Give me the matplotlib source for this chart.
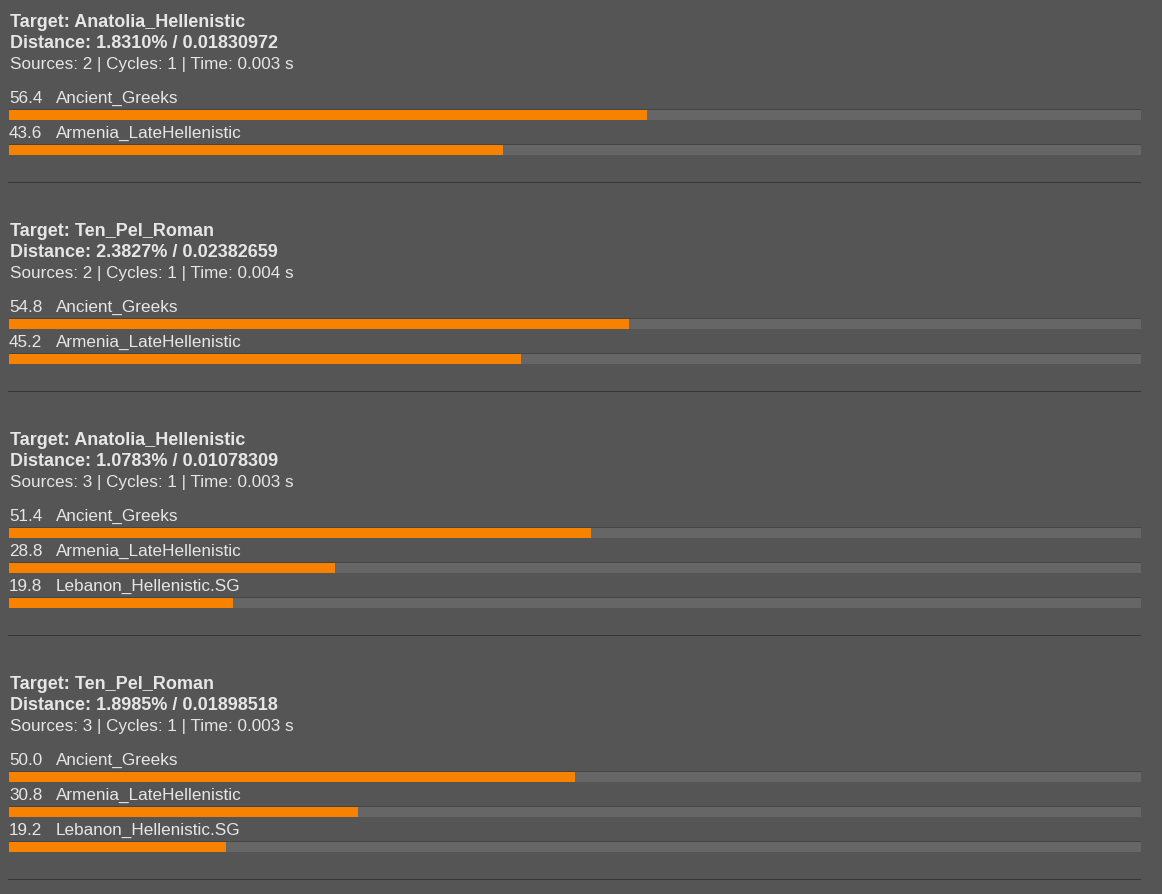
import matplotlib.pyplot as plt
from matplotlib.patches import Rectangle

plt.rcParams['font.family'] = ['Liberation Sans', 'DejaVu Sans']

targets = ['Anatolia_Hellenistic', 'Ten_Pel_Roman', 'Anatolia_Hellenistic', 'Ten_Pel_Roman']
distances = ['1.8310% / 0.01830972', '2.3827% / 0.02382659',
             '1.0783% / 0.01078309', '1.8985% / 0.01898518']
sources = [2, 2, 3, 3]
times = ['0.003', '0.004', '0.003', '0.003']
names = [
    ['Ancient_Greeks', 'Armenia_LateHellenistic'],
    ['Ancient_Greeks', 'Armenia_LateHellenistic'],
    ['Ancient_Greeks', 'Armenia_LateHellenistic', 'Lebanon_Hellenistic.SG'],
    ['Ancient_Greeks', 'Armenia_LateHellenistic', 'Lebanon_Hellenistic.SG'],
]
values = [
    [56.4, 43.6],
    [54.8, 45.2],
    [51.4, 28.8, 19.8],
    [50.0, 30.8, 19.2],
]

BG = '#555555'
TXT = '#e6e6e6'
ORANGE = '#f78200'
TRACK = '#666666'

W, H = 1162, 894
fig = plt.figure(figsize=(W / 100, H / 100), dpi=100, facecolor=BG)
ax = fig.add_axes([0, 0, 1, 1])
ax.set_xlim(0, W)
ax.set_ylim(H, 0)
ax.axis('off')

x0, track_w = 9, 1132
fs_b, fs = 13.0, 12.3
t = 0
for k in range(len(targets)):
    ax.text(10, t + 27, f'Target: {targets[k]}', color=TXT, fontsize=fs_b,
            fontweight='bold', va='baseline')
    ax.text(10, t + 48, f'Distance: {distances[k]}', color=TXT, fontsize=fs_b,
            fontweight='bold', va='baseline')
    ax.text(10, t + 69, f'Sources: {sources[k]} | Cycles: 1 | Time: {times[k]} s',
            color=TXT, fontsize=fs, va='baseline')
    for i, (nm, v) in enumerate(zip(names[k], values[k])):
        ty = t + 103 + 35 * i
        by = t + 109 + 35 * i
        ax.text(9, ty, f'{v:.1f}', color=TXT, fontsize=fs, va='baseline')
        ax.text(56, ty, nm, color=TXT, fontsize=fs, va='baseline')
        # track with a dark top edge, then the orange share
        ax.add_patch(Rectangle((x0, by), track_w, 1, facecolor='#454545', edgecolor='none'))
        ax.add_patch(Rectangle((x0, by + 1), track_w, 10, facecolor=TRACK, edgecolor='none'))
        ax.add_patch(Rectangle((x0, by + 1), track_w * v / 100, 10,
                               facecolor=ORANGE, edgecolor='none'))
    sep = t + 109 + 35 * (len(values[k]) - 1) + 11 + 27
    ax.add_patch(Rectangle((8, sep), 1133, 1, facecolor='#363636', edgecolor='none'))
    t = sep + 27

fig.savefig('out.png', dpi=100, facecolor=BG)
